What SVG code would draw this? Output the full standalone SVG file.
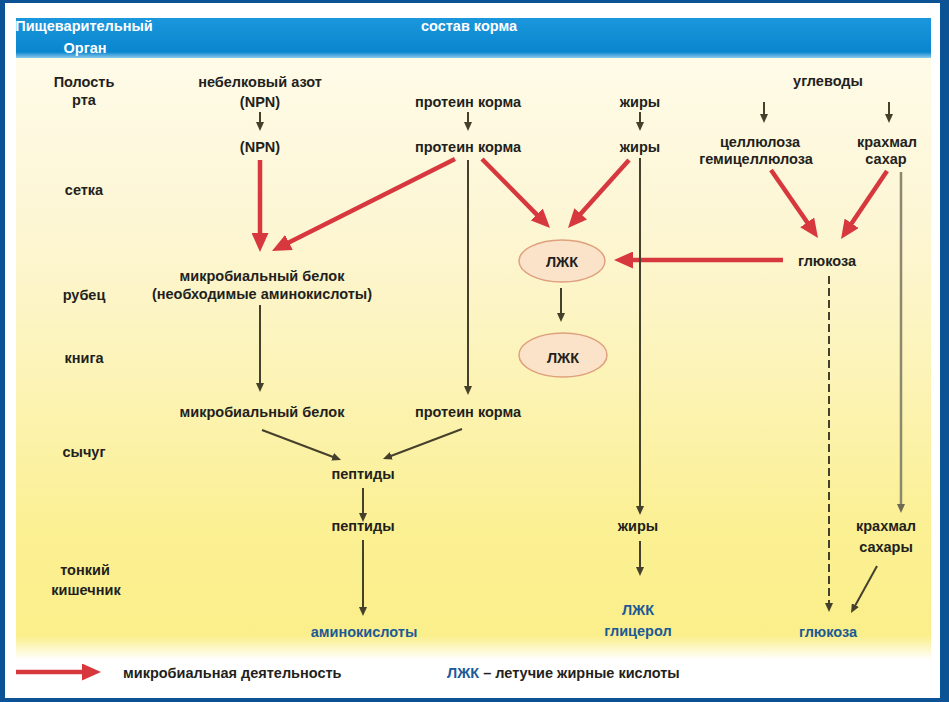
<svg xmlns="http://www.w3.org/2000/svg" width="949" height="702" viewBox="0 0 949 702">
<style>
text{font-family:"Liberation Sans",Arial,sans-serif;font-weight:bold;font-size:14.5px;text-anchor:middle}
.t{fill:#231f1c}
.b{fill:#1c5a97}
.w{fill:#ffffff}
.red{stroke:#d6383e;stroke-width:4.5;fill:none}
.dk{stroke:#45402b;stroke-width:2;fill:none}
.gr{stroke:#8c8870;stroke-width:2.5;fill:none}
.ell{fill:#fbe3c9;stroke:#dfa07e;stroke-width:1.5}
</style>
<defs>
<linearGradient id="bg" x1="0" y1="57" x2="0" y2="660" gradientUnits="userSpaceOnUse">
<stop offset="0" stop-color="#fefbe8"/>
<stop offset="0.28" stop-color="#fdf6d4"/>
<stop offset="0.55" stop-color="#fcf3b4"/>
<stop offset="0.78" stop-color="#fbf093"/>
<stop offset="0.96" stop-color="#fbef8b"/>
<stop offset="1" stop-color="#ffffff"/>
</linearGradient>
<linearGradient id="hd" x1="0" y1="18" x2="0" y2="58" gradientUnits="userSpaceOnUse">
<stop offset="0" stop-color="#1b97dc"/>
<stop offset="0.85" stop-color="#0a86cf"/>
<stop offset="1" stop-color="#8ccbec"/>
</linearGradient>
<marker id="ar" viewBox="0 0 19 17" refX="3" refY="8.5" markerWidth="19" markerHeight="17" markerUnits="userSpaceOnUse" orient="auto">
<path d="M0,0 L19,8.5 L0,17 z" fill="#d6383e"/>
</marker>
<marker id="ad" viewBox="0 0 9 8" refX="2" refY="4" markerWidth="9" markerHeight="8" markerUnits="userSpaceOnUse" orient="auto">
<path d="M0,0 L9,4 L0,8 z" fill="#45402b"/>
</marker>
<marker id="ag" viewBox="0 0 9 8" refX="2" refY="4" markerWidth="9" markerHeight="8" markerUnits="userSpaceOnUse" orient="auto">
<path d="M0,0 L9,4 L0,8 z" fill="#6e6a52"/>
</marker>
</defs>

<rect x="0" y="0" width="949" height="702" fill="#0b5394"/>
<rect x="5" y="3" width="935" height="695" fill="#ffffff"/>
<rect x="16" y="57" width="915" height="603" fill="url(#bg)"/>
<rect x="16" y="18" width="915" height="40" fill="url(#hd)"/>

<g id="header">
<text class="w" x="84" y="31">Пищеварительный</text>
<text class="w" x="85" y="53">Орган</text>
<text class="w" x="469" y="31">состав корма</text>
</g>

<g id="organs">
<text class="t" x="84" y="87">Полость</text>
<text class="t" x="84" y="105">рта</text>
<text class="t" x="84" y="195">сетка</text>
<text class="t" x="84" y="300">рубец</text>
<text class="t" x="84" y="363">книга</text>
<text class="t" x="84" y="457">сычуг</text>
<text class="t" x="85" y="575">тонкий</text>
<text class="t" x="86" y="595">кишечник</text>
</g>

<g id="connectors">
<line class="dk" x1="260" y1="112" x2="260" y2="124" marker-end="url(#ad)"/>
<line class="dk" x1="468" y1="112" x2="468" y2="124" marker-end="url(#ad)"/>
<line class="dk" x1="640" y1="112" x2="640" y2="124" marker-end="url(#ad)"/>
<line class="dk" x1="764" y1="102" x2="764" y2="116" marker-end="url(#ad)"/>
<line class="dk" x1="889" y1="102" x2="889" y2="116" marker-end="url(#ad)"/>

<line class="red" x1="260" y1="160" x2="260" y2="236" marker-end="url(#ar)"/>
<line class="red" x1="455" y1="159" x2="286.3" y2="243.8" marker-end="url(#ar)"/>
<line class="red" x1="482" y1="159" x2="538.8" y2="216.6" marker-end="url(#ar)"/>
<line class="red" x1="629" y1="160" x2="578.7" y2="216.1" marker-end="url(#ar)"/>
<line class="red" x1="783" y1="260" x2="630" y2="260" marker-end="url(#ar)"/>
<line class="red" x1="771" y1="170" x2="808.9" y2="224.8" marker-end="url(#ar)"/>
<line class="red" x1="887" y1="171" x2="850" y2="225.8" marker-end="url(#ar)"/>

<line class="dk" x1="468" y1="160" x2="468" y2="388" marker-end="url(#ad)"/>
<line class="dk" x1="640" y1="158" x2="640" y2="508" marker-end="url(#ad)"/>
<line class="gr" x1="901" y1="172" x2="901" y2="506" marker-end="url(#ag)"/>
<line class="dk" x1="260" y1="305" x2="260" y2="385" marker-end="url(#ad)"/>
<line class="dk" x1="561" y1="288" x2="561" y2="315" marker-end="url(#ad)"/>
<line class="dk" x1="262" y1="430" x2="334.5" y2="457.5" marker-end="url(#ad)"/>
<line class="dk" x1="462" y1="429" x2="389.5" y2="456.5" marker-end="url(#ad)"/>
<line class="dk" x1="363" y1="488" x2="363" y2="515" marker-end="url(#ad)"/>
<line class="dk" x1="363" y1="540" x2="363" y2="609" marker-end="url(#ad)"/>
<line class="dk" x1="640" y1="541" x2="640" y2="569" marker-end="url(#ad)"/>
<line class="dk" x1="829" y1="276" x2="829" y2="605" stroke-dasharray="8 4" stroke-width="2.5" marker-end="url(#ad)"/>
<line class="dk" x1="877" y1="566" x2="854.4" y2="606.9" marker-end="url(#ad)"/>
</g>

<g id="n-npn1"><text class="t" x="260" y="87">небелковый азот</text><text class="t" x="260" y="107">(NPN)</text></g>
<g id="n-protein1"><text class="t" x="468" y="107">протеин корма</text></g>
<g id="n-fat1"><text class="t" x="640" y="107">жиры</text></g>
<g id="n-carb"><text class="t" x="828" y="86">углеводы</text></g>

<g id="n-npn2"><text class="t" x="260" y="152">(NPN)</text></g>
<g id="n-protein2"><text class="t" x="468" y="152">протеин корма</text></g>
<g id="n-fat2"><text class="t" x="640" y="152">жиры</text></g>
<g id="n-cell"><text class="t" x="760" y="147">целлюлоза</text><text class="t" x="756" y="164">гемицеллюлоза</text></g>
<g id="n-starch1"><text class="t" x="887" y="147">крахмал</text><text class="t" x="886" y="164">сахар</text></g>

<g id="n-microb1"><text class="t" x="262" y="281">микробиальный белок</text><text class="t" x="262" y="299">(необходимые аминокислоты)</text></g>
<g id="n-vfa1"><ellipse class="ell" cx="562" cy="261" rx="43" ry="21"/><text class="t" x="562" y="267">ЛЖК</text></g>
<g id="n-glucose1"><text class="t" x="827" y="266">глюкоза</text></g>
<g id="n-vfa2"><ellipse class="ell" cx="563" cy="355" rx="44" ry="22"/><text class="t" x="563" y="363">ЛЖК</text></g>

<g id="n-microb2"><text class="t" x="262" y="417">микробиальный белок</text></g>
<g id="n-protein3"><text class="t" x="468" y="417">протеин корма</text></g>
<g id="n-pept1"><text class="t" x="363" y="479">пептиды</text></g>
<g id="n-pept2"><text class="t" x="363" y="531">пептиды</text></g>
<g id="n-fat3"><text class="t" x="638" y="531">жиры</text></g>
<g id="n-starch2"><text class="t" x="886" y="531">крахмал</text><text class="t" x="886" y="552">сахары</text></g>
<g id="n-amino"><text class="b" x="364" y="637">аминокислоты</text></g>
<g id="n-vfa3"><text class="b" x="638" y="615">ЛЖК</text><text class="b" x="638" y="636">глицерол</text></g>
<g id="n-glucose2"><text class="b" x="828" y="637">глюкоза</text></g>

<g id="legend">
<line class="red" x1="16" y1="672" x2="85" y2="672" marker-end="url(#ar)"/>
<text class="t" x="123" y="678" style="text-anchor:start">микробиальная деятельность</text>
<text x="447" y="678" style="text-anchor:start"><tspan class="b">ЛЖК</tspan><tspan class="t"> – летучие жирные кислоты</tspan></text>
</g>
</svg>
